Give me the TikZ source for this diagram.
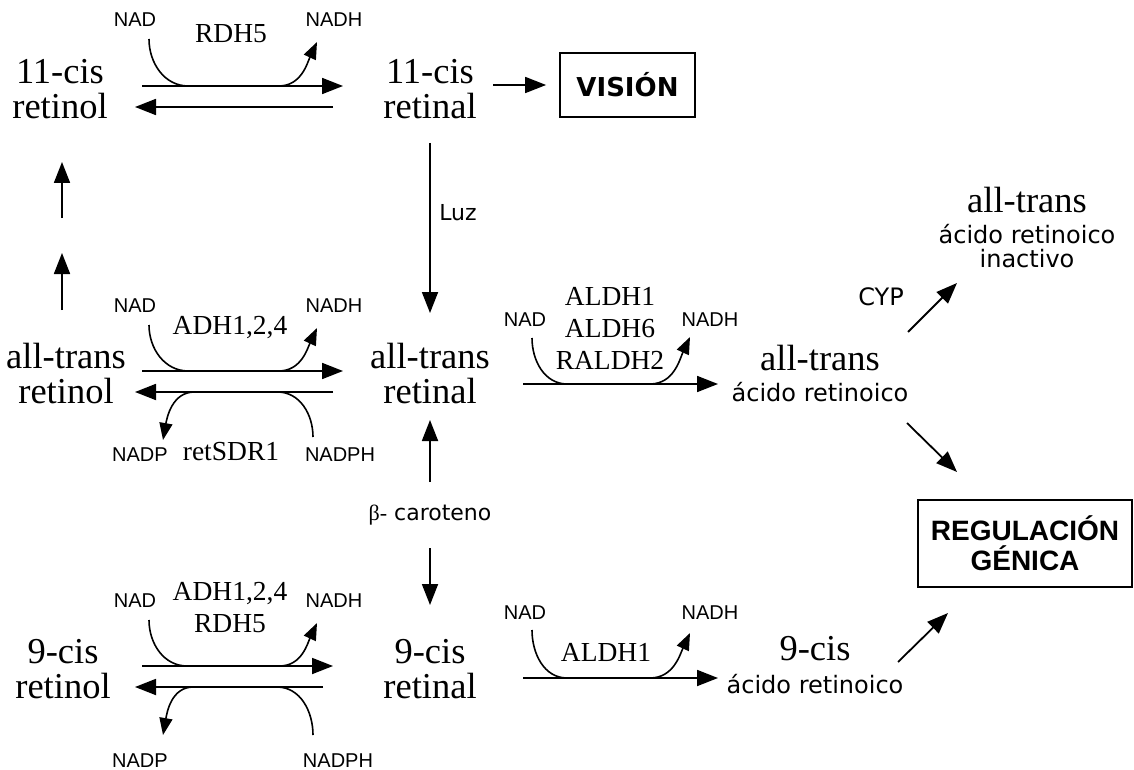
\documentclass[tikz,border=0pt]{standalone}
\usepackage{fontspec}
\setmainfont{Liberation Serif}
\setsansfont{Liberation Sans}
\newfontfamily\verd{DejaVu Sans}
\usetikzlibrary{calc}
\usetikzlibrary{arrows.meta}

\begin{document}
\begin{tikzpicture}[x=1pt,y=1pt,
		met/.style={font=\fontsize{36.5}{35}\selectfont, align=center, inner sep=0pt},
		enz/.style={font=\fontsize{27.5}{32}\selectfont, align=center, inner sep=0pt},
		cof/.style={font=\sffamily\fontsize{20}{22}\selectfont, inner sep=0pt},
		acid/.style={font=\verd\fontsize{24}{24}\selectfont, align=center, inner sep=0pt},
		lab/.style={font=\verd\fontsize{22}{24}\selectfont, inner sep=0pt},
		goal/.style={draw, line width=1.8pt, align=center, inner sep=0pt},
		arr/.style={-{Triangle[length=21pt,width=16pt]}, line width=1.8pt},
		cur/.style={line width=1.6pt},
		cura/.style={cur, -{Triangle[length=17pt,width=13pt]}}]
		\useasboundingbox (0,0) rectangle (1134,-770);
		% retinol y retinal
		\node[met] (cisol) at (60,-89) {11-cis\\retinol};
		\node[met] (cisal) at (430,-89) {11-cis\\retinal};
		\node[met] (atol) at (66,-374) {all-trans\\retinol};
		\node[met] (atal) at (430,-374) {all-trans\\retinal};
		\node[met] (ncol) at (63,-669) {9-cis\\retinol};
		\node[met] (ncal) at (430,-669) {9-cis\\retinal};
		% acido retinoico
		\node[acid] (atra) at (820,-374) {{\rmfamily\fontsize{36.5}{35}\selectfont all-trans}\\[7pt]ácido retinoico};
		\node[acid] (inact) at (1027,-228) {{\rmfamily\fontsize{36.5}{35}\selectfont all-trans}\\[7pt]ácido retinoico\\inactivo};
		\node[acid] (ncra) at (815,-665) {{\rmfamily\fontsize{36.5}{35}\selectfont 9-cis}\\[9pt]ácido retinoico};
		\node[goal, minimum width=135pt, minimum height=64pt, font=\verd\bfseries\fontsize{26}{28}\selectfont] (vis) at (627.5,-85) {VISIÓN};
		\node[goal, minimum width=214pt, minimum height=87pt, font=\sffamily\bfseries\fontsize{28}{30}\selectfont] (reg) at (1025,-543.5) {REGULACIÓN\\GÉNICA};
		% enzimas
		\node[enz] (rdh) at (231,-34) {RDH5};
		\node[enz] (adh) at (230,-328) {ADH1,2,4};
		\node[enz] (sdr) at (231,-452) {retSDR1};
		\node[enz] (adhr) at (230,-608) {ADH1,2,4\\RDH5};
		\node[enz] (aldh) at (610,-328) {ALDH1\\ALDH6\\RALDH2};
		\node[enz] (ald) at (606,-652) {ALDH1};
		\node[lab] (luz) at (458,-213) {Luz};
		\node[lab] (car) at (430,-515) {{\rmfamily β-} caroteno};
		\node[acid] (cyp) at (881,-297) {CYP};
		% cofactores
		\node[cof] (nad1) at (135,-20) {NAD};
		\node[cof] (nadh1) at (334,-20) {NADH};
		\node[cof] (nad2) at (135,-306) {NAD};
		\node[cof] (nadh2) at (334,-306) {NADH};
		\node[cof] (nadp2) at (140,-455) {NADP};
		\node[cof] (nadph2) at (340,-455) {NADPH};
		\node[cof] (nad3) at (135,-601) {NAD};
		\node[cof] (nadh3) at (334,-601) {NADH};
		\node[cof] (nadp3) at (140,-761) {NADP};
		\node[cof] (nadph3) at (338,-761) {NADPH};
		\node[cof] (nad4) at (525,-320) {NAD};
		\node[cof] (nadh4) at (710,-320) {NADH};
		\node[cof] (nad5) at (525,-613) {NAD};
		\node[cof] (nadh5) at (710,-613) {NADH};
		% reacciones
		\draw[arr] ($(cisol)+(82,3)$) -- ($(cisal)+(-87,3)$) coordinate[pos=.23] (in1) coordinate[pos=.68] (out1);
		\draw[arr] ($(cisal)+(-97,-18)$) -- ($(cisol)+(75,-18)$);
		\draw[arr] ($(atol)+(76,3)$) -- ($(atal)+(-87,3)$) coordinate[pos=.23] (in2) coordinate[pos=.68] (out2);
		\draw[arr] ($(atal)+(-97,-18)$) -- ($(atol)+(69,-18)$) coordinate[pos=.28] (in2b) coordinate[pos=.70] (out2b);
		\draw[arr] ($(ncol)+(79,3)$) -- ($(ncal)+(-97,3)$) coordinate[pos=.236] (in3) coordinate[pos=.72] (out3);
		\draw[arr] ($(ncal)+(-107,-18)$) -- ($(ncol)+(72,-18)$) coordinate[pos=.245] (in3b) coordinate[pos=.69] (out3b);
		\draw[arr] ($(atal)+(93,-10)$) -- ($(atra)+(-102,-10)$) coordinate[pos=.226] (in4) coordinate[pos=.651] (out4);
		\draw[arr] ($(ncal)+(93,-9)$) -- ($(ncra)+(-97,-13)$) coordinate[pos=.226] (in5) coordinate[pos=.651] (out5);
		% NAD -> NADH
		\draw[cur] ($(nad1)+(14,-19)$) to[out=-90,in=180] (in1);
		\draw[cura] (out1) to[out=0,in=-115] ($(nadh1)+(-17,-22)$);
		\draw[cur] ($(nad2)+(14,-19)$) to[out=-90,in=180] (in2);
		\draw[cura] (out2) to[out=0,in=-115] ($(nadh2)+(-17,-22)$);
		\draw[cur] ($(nad3)+(14,-19)$) to[out=-90,in=180] (in3);
		\draw[cura] (out3) to[out=0,in=-115] ($(nadh3)+(-17,-22)$);
		\draw[cur] ($(nad4)+(7,-18)$) to[out=-90,in=180] (in4);
		\draw[cura] (out4) to[out=0,in=-115] ($(nadh4)+(-20,-17)$);
		\draw[cur] ($(nad5)+(7,-17)$) to[out=-90,in=180] (in5);
		\draw[cura] (out5) to[out=0,in=-115] ($(nadh5)+(-20,-20)$);
		% NADPH -> NADP
		\draw[cur] ($(nadph2)+(-27,18)$) to[out=90,in=0] (in2b);
		\draw[cura] (out2b) to[out=180,in=80] ($(nadp2)+(23,15)$);
		\draw[cur] ($(nadph3)+(-25,26)$) to[out=90,in=0] (in3b);
		\draw[cura] (out3b) to[out=180,in=80] ($(nadp3)+(23,26)$);
		% flechas sueltas
		\draw[arr] ($(cisal)+(63,4)$) -- ($(vis.west)+(-13,0)$);
		\draw[arr] ($(cisal)+(0,-54)$) -- ($(atal)+(0,61)$);
		\draw[arr] ($(atol)+(-4,64)$) -- ($(atol)+(-4,121)$);
		\draw[arr] ($(cisol)+(2,-129)$) -- ($(cisol)+(2,-73)$);
		\draw[arr] ($(car)+(0,33)$) -- ($(atal)+(0,-46)$);
		\draw[arr] ($(car)+(0,-33)$) -- ($(ncal)+(0,64)$);
		\draw[arr] ($(atra)+(88,42)$) -- ++(49,49);
		\draw[arr] ($(atra)+(87,-49)$) -- ++(50,-49);
		\draw[arr] ($(ncra)+(83,3)$) -- ++(50,49);
\end{tikzpicture}
\end{document}
